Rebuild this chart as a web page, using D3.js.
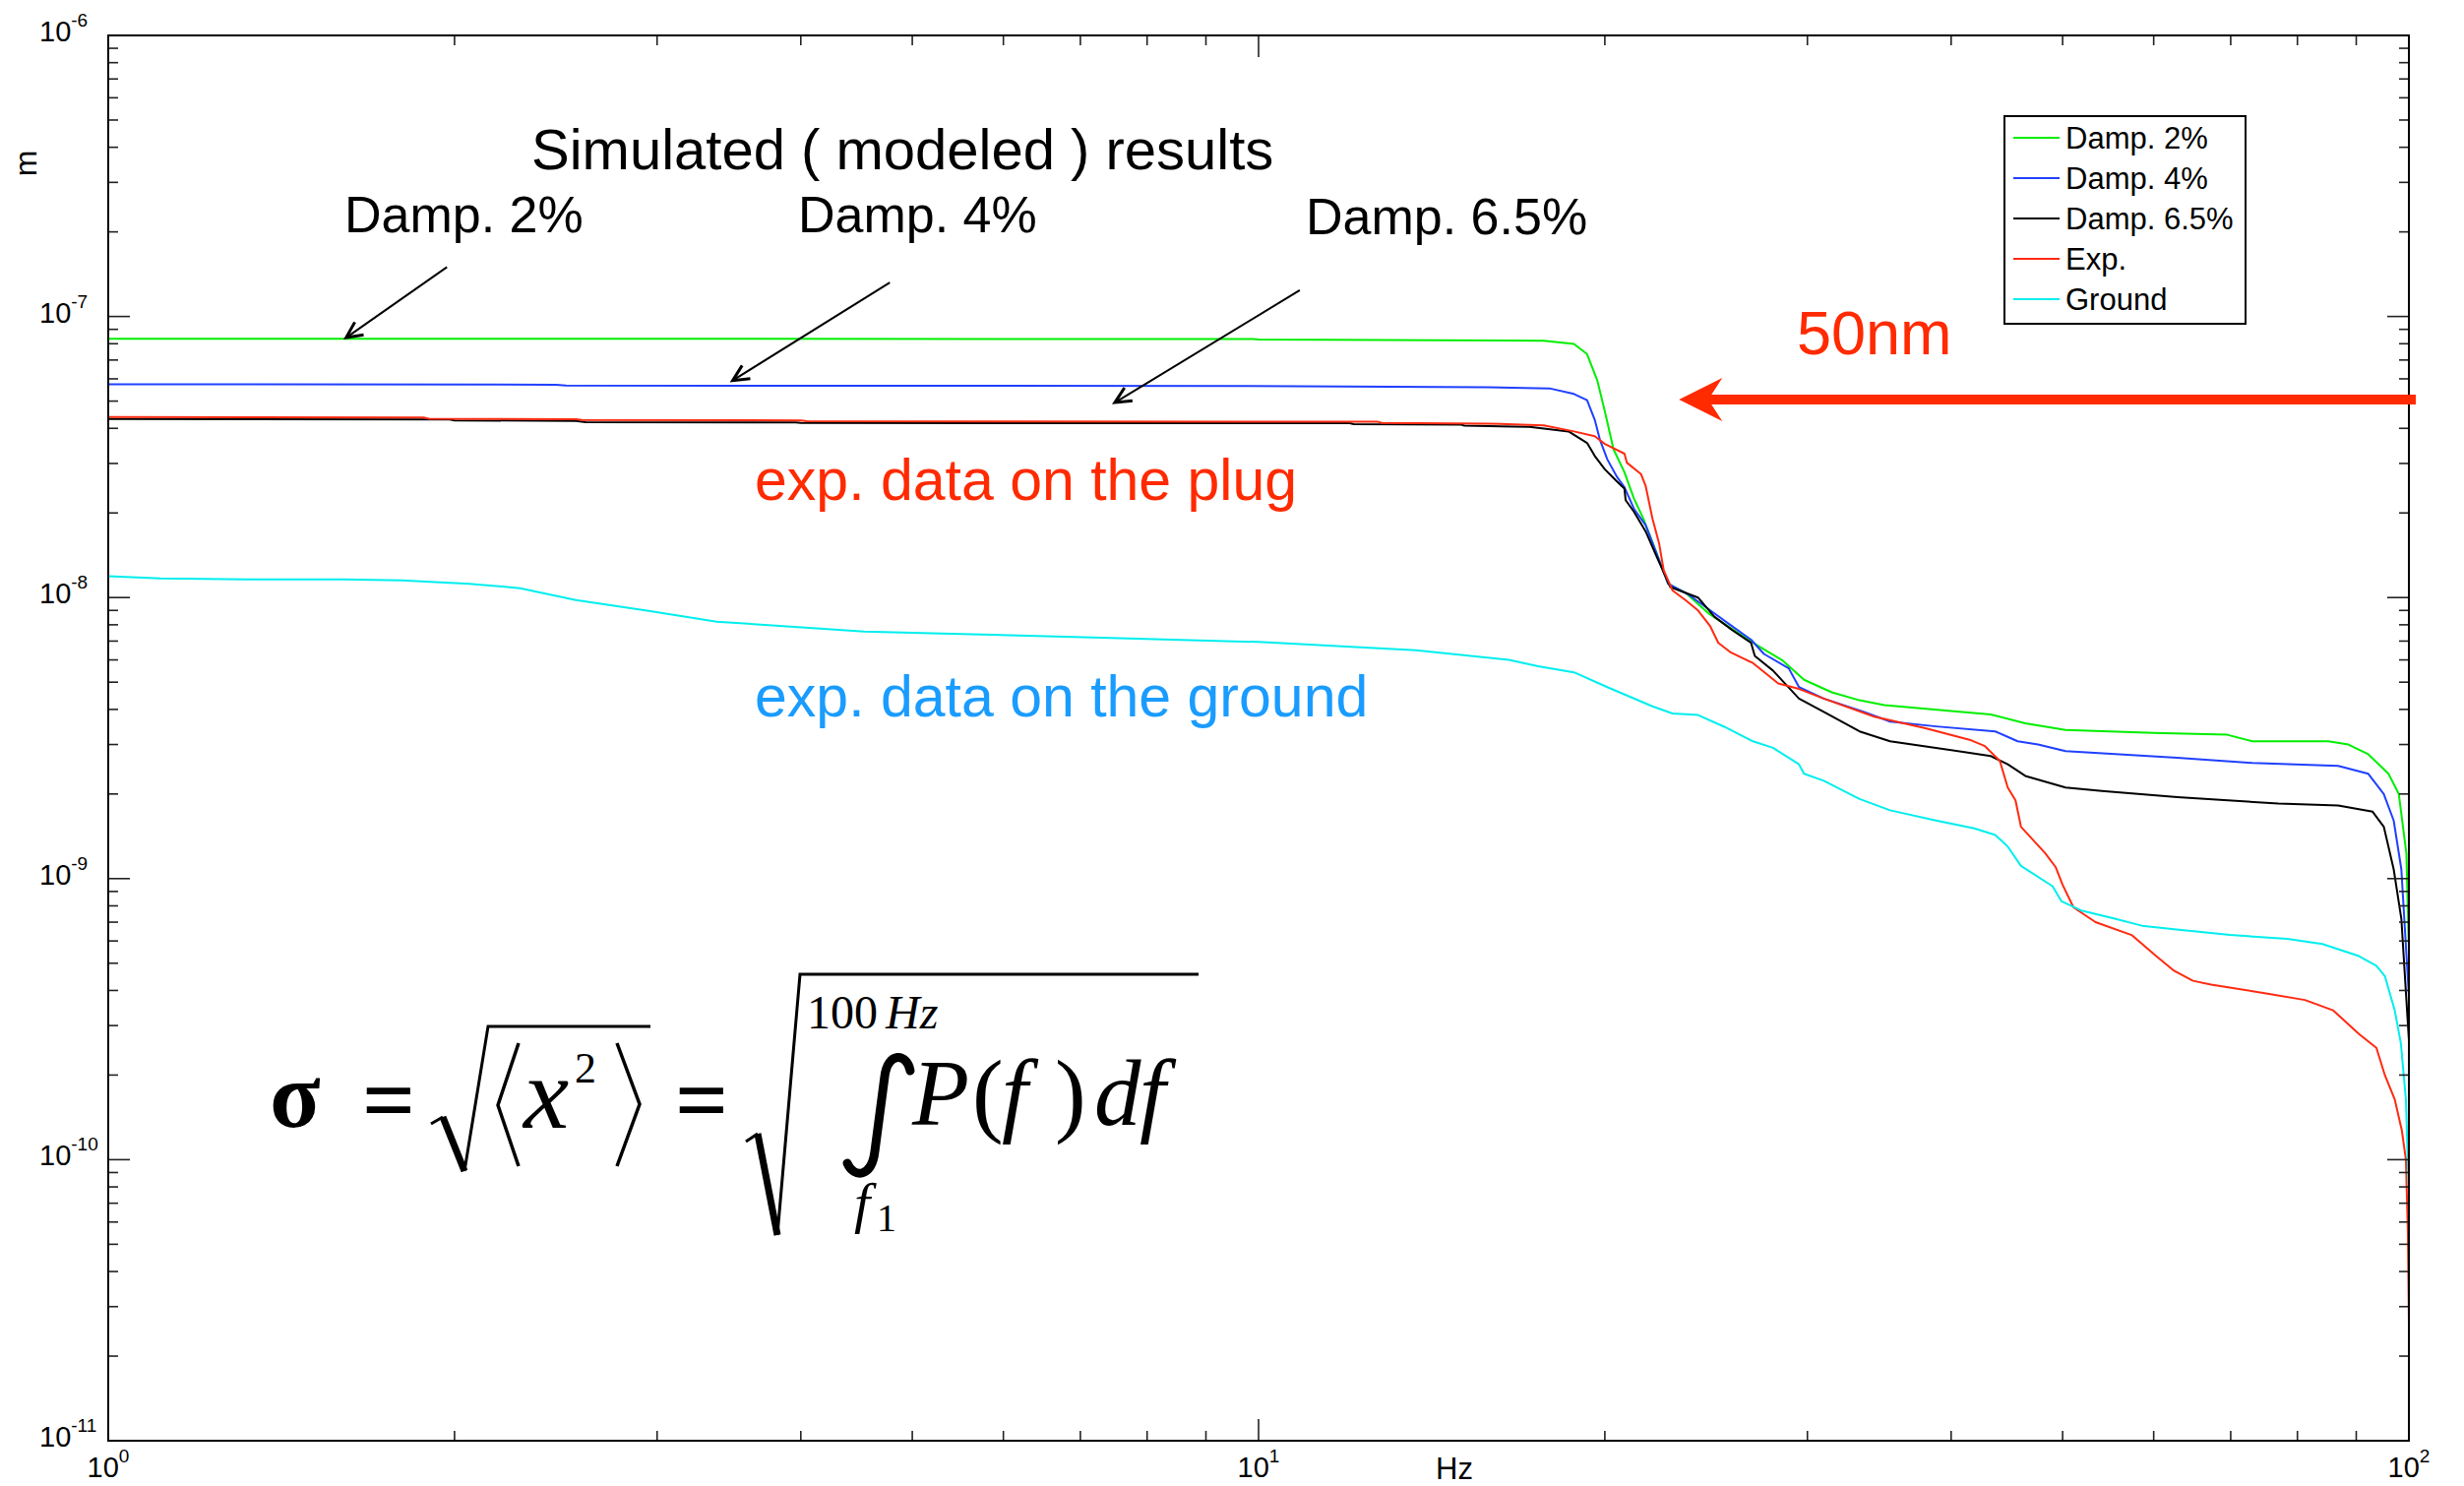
<!DOCTYPE html>
<html>
<head>
<meta charset="utf-8">
<script src="https://cdn.jsdelivr.net/npm/d3@7"></script>
<style>
  body { margin: 0; background: #fff; }
  text { font-family: "Liberation Sans", Arial, Helvetica, sans-serif; }
  text.math { font-family: "Liberation Serif", "Times New Roman", serif; }
</style>
</head>
<body>
<div id="plot"></div>
<script>
// Cumulative RMS displacement, [frequency (Hz), displacement (m)]
const damp2 = [
  [1, 8.33e-8], [9.9, 8.32e-8], [10, 8.28e-8], [17.7, 8.2e-8], [18.8, 7.99e-8], [19.3, 7.35e-8],
  [19.7, 5.92e-8], [20.0, 4.6e-8], [20.35, 3.37e-8], [20.8, 2.79e-8], [21.2, 2.25e-8], [21.6, 1.91e-8],
  [22.1, 1.5e-8], [22.7, 1.12e-8], [23.5, 1.04e-8], [24.6, 8.8e-9], [26.9, 6.9e-9], [28.5, 6.0e-9],
  [29.8, 5.1e-9], [31.5, 4.6e-9], [33.3, 4.31e-9], [35.0, 4.14e-9], [40, 3.95e-9], [43.3, 3.84e-9],
  [46.4, 3.57e-9], [50.3, 3.38e-9], [60, 3.3e-9], [69.5, 3.25e-9], [73.1, 3.08e-9], [85.1, 3.08e-9],
  [88.6, 3.0e-9], [92.2, 2.77e-9], [96.0, 2.36e-9], [98.0, 2.0e-9], [99.5, 1.23e-9], [100, 5.5e-10]
];
const damp4 = [
  [1, 5.74e-8], [2.45, 5.72e-8], [2.5, 5.68e-8], [9.8, 5.66e-8], [15.8, 5.6e-8], [17.9, 5.55e-8],
  [18.8, 5.3e-8], [19.3, 5.04e-8], [19.6, 4.29e-8], [19.8, 3.65e-8], [20.1, 3.1e-8], [20.5, 2.68e-8],
  [20.8, 2.47e-8], [21.2, 2.07e-8], [21.7, 1.81e-8], [22.2, 1.42e-8], [22.7, 1.12e-8], [23.6, 1.03e-8],
  [24.7, 9.0e-9], [25.7, 8.0e-9], [26.8, 7.08e-9], [27.5, 6.3e-9], [28.9, 5.6e-9], [29.5, 4.8e-9],
  [31.0, 4.37e-9], [33.6, 3.92e-9], [35.4, 3.62e-9], [38.8, 3.48e-9], [43.7, 3.34e-9], [45.7, 3.08e-9],
  [47.6, 3.0e-9], [50.3, 2.84e-9], [62.9, 2.69e-9], [73.1, 2.58e-9], [86.8, 2.52e-9], [92.2, 2.36e-9],
  [95.1, 2.0e-9], [97.0, 1.61e-9], [98.5, 1.08e-9], [100, 3.8e-10]
];
const damp65 = [
  [1, 4.32e-8], [1.98, 4.3e-8], [2.0, 4.27e-8], [2.55, 4.25e-8], [2.6, 4.21e-8], [3.96, 4.2e-8],
  [4.0, 4.18e-8], [12.0, 4.17e-8], [12.1, 4.14e-8], [15.0, 4.12e-8], [15.1, 4.09e-8], [17.2, 4.05e-8],
  [18.6, 3.9e-8], [19.3, 3.55e-8], [19.6, 3.19e-8], [20.0, 2.86e-8], [20.45, 2.61e-8], [20.8, 2.44e-8],
  [20.85, 2.22e-8], [21.2, 2.02e-8], [21.7, 1.72e-8], [22.2, 1.39e-8], [22.8, 1.09e-8], [24.1, 1.0e-8],
  [24.9, 8.55e-9], [25.8, 7.67e-9], [26.8, 6.9e-9], [27.0, 6.2e-9], [28.0, 5.5e-9], [29.5, 4.37e-9],
  [31.0, 3.92e-9], [33.3, 3.34e-9], [35.4, 3.08e-9], [38.8, 2.92e-9], [43.3, 2.73e-9], [44.8, 2.55e-9],
  [46.4, 2.32e-9], [50.3, 2.11e-9], [54.1, 2.05e-9], [62.9, 1.95e-9], [77, 1.85e-9], [86.8, 1.82e-9],
  [93.0, 1.73e-9], [95.1, 1.53e-9], [97.0, 1.08e-9], [98.5, 7.2e-10], [100, 2.66e-10]
];
const expPlug = [
  [1, 4.39e-8], [1.88, 4.37e-8], [1.9, 4.33e-8], [2.55, 4.31e-8], [2.58, 4.28e-8], [4.0, 4.27e-8],
  [4.05, 4.24e-8], [12.7, 4.22e-8], [12.8, 4.18e-8], [15.8, 4.16e-8], [17.7, 4.1e-8], [18.8, 3.9e-8],
  [19.6, 3.75e-8], [20.0, 3.52e-8], [20.8, 3.25e-8], [20.9, 3.02e-8], [21.5, 2.75e-8], [21.7, 2.5e-8],
  [22.0, 1.91e-8], [22.3, 1.55e-8], [22.5, 1.25e-8], [22.9, 1.06e-8], [23.5, 9.8e-9], [24.1, 9.0e-9],
  [24.7, 7.9e-9], [25.1, 6.9e-9], [25.7, 6.4e-9], [26.9, 5.85e-9], [28.3, 4.95e-9], [29.5, 4.73e-9],
  [31.0, 4.37e-9], [34.3, 3.77e-9], [38.0, 3.43e-9], [41.5, 3.12e-9], [42.8, 2.96e-9], [44.1, 2.62e-9],
  [44.8, 2.11e-9], [45.5, 1.9e-9], [46.0, 1.53e-9], [48.3, 1.23e-9], [49.3, 1.1e-9], [50.0, 9.5e-10],
  [51.1, 7.9e-10], [53.4, 7.0e-10], [57.4, 6.3e-10], [60.3, 5.3e-10], [62.5, 4.7e-10], [64.9, 4.33e-10],
  [67.3, 4.2e-10], [75.6, 3.89e-10], [81.2, 3.7e-10], [85.9, 3.4e-10], [90.5, 2.8e-10], [93.7, 2.5e-10],
  [95.3, 2.0e-10], [97.2, 1.64e-10], [98.6, 1.27e-10], [99.4, 1.0e-10], [99.8, 5.5e-11], [100, 2.6e-11]
];
const ground = [
  [1, 1.19e-8], [1.11, 1.17e-8], [1.32, 1.16e-8], [1.6, 1.16e-8], [1.8, 1.15e-8], [2.06, 1.12e-8],
  [2.28, 1.08e-8], [2.55, 9.8e-9], [2.95, 8.97e-9], [3.38, 8.21e-9], [3.92, 7.88e-9], [4.54, 7.57e-9],
  [5.3, 7.45e-9], [7.3, 7.2e-9], [10, 6.95e-9], [13.7, 6.5e-9], [16.5, 6.0e-9], [17.5, 5.7e-9],
  [18.8, 5.42e-9], [20.1, 4.8e-9], [22.0, 4.1e-9], [22.9, 3.87e-9], [24.1, 3.82e-9], [25.4, 3.47e-9],
  [26.9, 3.08e-9], [28.0, 2.92e-9], [29.5, 2.55e-9], [29.8, 2.36e-9], [31.0, 2.23e-9], [33.3, 1.92e-9],
  [35.4, 1.75e-9], [38.8, 1.61e-9], [41.9, 1.51e-9], [43.7, 1.43e-9], [44.8, 1.3e-9], [46.0, 1.11e-9],
  [49.0, 9.4e-10], [49.9, 8.3e-10], [51.9, 7.7e-10], [55.5, 7.2e-10], [58.6, 6.8e-10], [62.5, 6.6e-10],
  [69.9, 6.3e-10], [78.4, 6.1e-10], [84.1, 5.85e-10], [90.5, 5.3e-10], [93.7, 4.9e-10], [95.3, 4.5e-10],
  [97.2, 3.4e-10], [98.4, 2.6e-10], [99.4, 1.64e-10], [99.9, 8.4e-11], [100, 8.0e-11]
];

const seriesNames = ["Damp. 2%", "Damp. 4%", "Damp. 6.5%", "Exp.", "Ground"];
const seriesColors = ["#00ee00", "#2040ff", "#000000", "#ff2a10", "#00eeee"];
const seriesData = [damp2, damp4, damp65, expPlug, ground];

const xTickExps = [0, 1, 2];
const yTickExps = [-11, -10, -9, -8, -7, -6];

// annotation arrows: [from f, from m, to f, to m]
const labelArrows = [
  [1.97, 1.50e-7, 1.61, 8.41e-8],
  [4.78, 1.32e-7, 3.49, 5.92e-8],
  [10.86, 1.24e-7, 7.50, 4.94e-8]
];

// Set up dimensions and margins
const W = 2504, H = 1510;
const margin = { top: 36, right: 56, bottom: 46, left: 110 },
      width = W - margin.left - margin.right,
      height = H - margin.top - margin.bottom;

const svg = d3.select("#plot")
  .append("svg")
  .attr("width", W)
  .attr("height", H)
  .style("display", "block")
  .style("background", "#fff");

const plot = svg.append("g")
  .attr("transform", `translate(${margin.left}, ${margin.top})`);

const x = d3.scaleLog().domain([1, 100]).range([0, width]);
const y = d3.scaleLog().domain([1e-11, 1e-6]).range([height, 0]);

svg.append("defs").append("clipPath").attr("id", "clip")
  .append("rect").attr("width", width).attr("height", height);

// Curves
const line = d3.line().x(d => x(d[0])).y(d => y(d[1]));
const curves = plot.append("g").attr("clip-path", "url(#clip)");
seriesData.forEach((data, i) => {
  curves.append("path")
    .datum(data)
    .attr("d", line)
    .attr("fill", "none")
    .attr("stroke", seriesColors[i])
    .attr("stroke-width", 2)
    .attr("stroke-linejoin", "round");
});

// Frame and inward ticks on all four sides
const isMajor = v => Math.abs(Math.log10(v) - Math.round(Math.log10(v))) < 1e-6;
const ticks = plot.append("g").attr("stroke", "#222").attr("stroke-width", 1.6);
x.ticks().forEach(v => {
  const len = isMajor(v) ? 22 : 10;
  ticks.append("line").attr("x1", x(v)).attr("x2", x(v)).attr("y1", height).attr("y2", height - len);
  ticks.append("line").attr("x1", x(v)).attr("x2", x(v)).attr("y1", 0).attr("y2", len);
});
y.ticks().forEach(v => {
  const len = isMajor(v) ? 22 : 10;
  ticks.append("line").attr("y1", y(v)).attr("y2", y(v)).attr("x1", 0).attr("x2", len);
  ticks.append("line").attr("y1", y(v)).attr("y2", y(v)).attr("x1", width).attr("x2", width - len);
});
plot.append("rect")
  .attr("width", width).attr("height", height)
  .attr("fill", "none").attr("stroke", "#000").attr("stroke-width", 2);

// Tick labels
xTickExps.forEach(e => {
  const t = plot.append("text")
    .attr("x", x(Math.pow(10, e)))
    .attr("y", height + 37)
    .attr("text-anchor", "middle")
    .style("font-size", "29px");
  t.append("tspan").text("10");
  t.append("tspan").attr("dy", -15).style("font-size", "19px").text(e);
});
yTickExps.forEach(e => {
  const t = plot.append("text")
    .attr("x", 40 - margin.left)
    .attr("y", y(Math.pow(10, e)) + 6)
    .style("font-size", "29px");
  t.append("tspan").text("10");
  t.append("tspan").attr("dy", -15).style("font-size", "19px").text(e);
});

// Axis labels
svg.append("text")
  .attr("transform", "translate(37, 166) rotate(-90)")
  .attr("text-anchor", "middle")
  .style("font-size", "32px")
  .text("m");
svg.append("text")
  .attr("x", 1478).attr("y", 1503)
  .attr("text-anchor", "middle")
  .style("font-size", "31px")
  .text("Hz");

// Legend
const legend = svg.append("g").attr("transform", "translate(2037, 118)");
legend.append("rect")
  .attr("width", 245).attr("height", 211)
  .attr("fill", "#fff").attr("stroke", "#000").attr("stroke-width", 2);
seriesNames.forEach((name, i) => {
  const ly = 22 + i * 41;
  legend.append("line")
    .attr("x1", 9).attr("x2", 56).attr("y1", ly).attr("y2", ly)
    .attr("stroke", seriesColors[i]).attr("stroke-width", 2);
  legend.append("text")
    .attr("x", 62).attr("y", ly + 11)
    .style("font-size", "31px")
    .text(name);
});

// Annotations
const addText = (tx, ty, size, color, str) => svg.append("text")
  .attr("x", tx).attr("y", ty)
  .style("font-size", size + "px")
  .attr("fill", color)
  .text(str);

addText(540, 172, 58, "#000", "Simulated ( modeled ) results");
addText(350, 236, 52, "#000", "Damp. 2%");
addText(811, 236, 52, "#000", "Damp. 4%");
addText(1327, 238, 52, "#000", "Damp. 6.5%");
addText(1826, 360, 63, "#ff2a00", "50nm");
addText(767, 508, 59, "#ff2a00", "exp. data on the plug");
addText(767, 728, 59, "#1a9cff", "exp. data on the ground");

// thin black arrows pointing at the simulated curves
labelArrows.forEach(a => {
  const x1 = x(a[0]), y1 = y(a[1]), x2 = x(a[2]), y2 = y(a[3]);
  const ang = Math.atan2(y2 - y1, x2 - x1);
  const len = 18, spread = 0.45;
  const p1 = [x2 - len * Math.cos(ang - spread), y2 - len * Math.sin(ang - spread)];
  const p2 = [x2 - len * Math.cos(ang + spread), y2 - len * Math.sin(ang + spread)];
  plot.append("line")
    .attr("x1", x1).attr("y1", y1).attr("x2", x2).attr("y2", y2)
    .attr("stroke", "#000").attr("stroke-width", 2);
  plot.append("path")
    .attr("d", `M${p1[0]},${p1[1]}L${x2},${y2}L${p2[0]},${p2[1]}`)
    .attr("fill", "none").attr("stroke", "#000").attr("stroke-width", 3);
});

// big red arrow marking the 50 nm level
{
  const tipX = x(23.2), cy = y(5.06e-8), endX = width + 7;
  const head = 44, half = 22, notch = 33, shaft = 5;
  plot.append("path")
    .attr("d", `M${tipX},${cy} L${tipX + head},${cy - half} L${tipX + notch},${cy - shaft}
                L${endX},${cy - shaft} L${endX},${cy + shaft} L${tipX + notch},${cy + shaft}
                L${tipX + head},${cy + half} Z`)
    .attr("fill", "#ff2a00");
}

// Formula: sigma = sqrt(<x^2>) = sqrt( int_{f1}^{100Hz} P(f) df )
const math = svg.append("g");
const mtext = (tx, ty, size, str, opts = {}) => math.append("text")
  .attr("class", "math")
  .attr("x", tx).attr("y", ty)
  .style("font-size", size + "px")
  .style("font-style", opts.italic ? "italic" : "normal")
  .style("font-weight", opts.bold ? "bold" : "normal")
  .text(str);
const mpath = (d, w) => math.append("path")
  .attr("d", d).attr("stroke", "#000").attr("stroke-width", w)
  .attr("fill", "none").attr("stroke-linejoin", "miter");

mtext(274, 1145, 95, "σ", { bold: true });
mtext(368, 1150, 95, "=", { bold: true });
mpath("M438,1142 L450,1135", 3);
mpath("M450,1135 L472,1190", 7);
mpath("M472,1190 L496,1043 L661,1043", 3);
mpath("M527,1060 L506,1123 L527,1185", 3.5);
mtext(532, 1146, 104, "x", { italic: true });
mtext(584, 1100, 44, "2");
mpath("M627,1060 L650,1122 L627,1185", 3.5);
mtext(686, 1150, 95, "=", { bold: true });
mpath("M758,1160 L770,1152", 3);
mpath("M770,1152 L790,1255", 7);
mpath("M790,1255 L813,990 L1218,990", 3);
mtext(820, 1045, 48, "100");
mtext(900, 1045, 48, "Hz", { italic: true });
math.append("path")
  .attr("d", "M925,1088 C922,1070 902,1068 899,1094 L889,1170 C886,1196 868,1198 861,1182")
  .attr("stroke", "#000").attr("stroke-width", 9).attr("fill", "none").attr("stroke-linecap", "round");
mtext(868, 1242, 58, "f", { italic: true });
mtext(891, 1251, 40, "1");
mtext(927, 1143, 95, "P", { italic: true });
mtext(988, 1143, 95, "(");
mtext(1018, 1143, 95, "f", { italic: true });
mtext(1072, 1143, 95, ")");
mtext(1112, 1143, 95, "d", { italic: true });
mtext(1158, 1143, 95, "f", { italic: true });
</script>
</body>
</html>
